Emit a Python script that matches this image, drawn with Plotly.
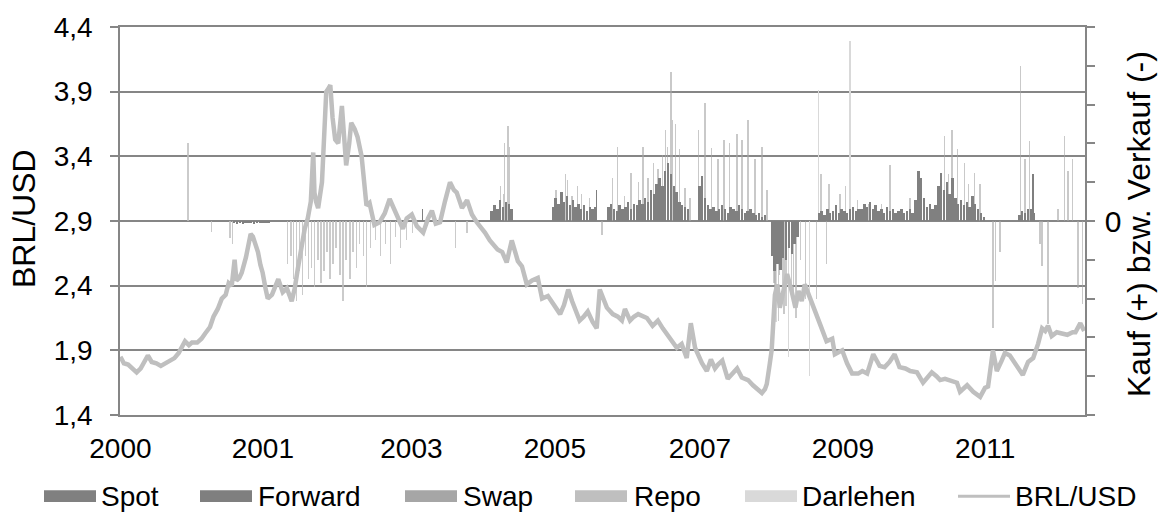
import pandas as pd
import plotly.graph_objects as go

# ---------------------------------------------------------------
# BRL/USD exchange rate (reais per US dollar)
# ---------------------------------------------------------------
fx_dates = [
    "2000-01-03", "2000-01-20", "2000-02-10", "2000-03-01", "2000-03-23", "2000-04-12",
    "2000-05-02", "2000-05-17", "2000-06-05", "2000-06-28", "2000-07-20", "2000-08-15",
    "2000-09-05", "2000-09-25", "2000-10-16", "2000-11-01", "2000-11-16", "2000-12-05",
    "2000-12-20", "2001-01-15", "2001-02-05", "2001-02-23", "2001-03-19", "2001-04-05",
    "2001-04-26", "2001-05-16", "2001-06-04", "2001-06-19", "2001-07-04", "2001-07-18",
    "2001-07-27", "2001-08-10", "2001-08-22", "2001-09-12", "2001-09-26", "2001-10-05",
    "2001-10-16", "2001-10-30", "2001-11-10", "2001-11-22", "2001-12-03", "2001-12-17",
    "2001-12-28", "2002-01-18", "2002-02-05", "2002-02-18", "2002-03-12", "2002-04-01",
    "2002-04-25", "2002-05-10", "2002-05-25", "2002-06-13", "2002-06-28", "2002-07-13",
    "2002-07-28", "2002-08-09", "2002-08-15", "2002-08-23", "2002-09-02", "2002-09-21",
    "2002-10-04", "2002-10-12", "2002-10-25", "2002-11-01", "2002-11-12", "2002-11-25",
    "2002-12-10", "2002-12-28", "2003-01-08", "2003-01-18", "2003-02-02", "2003-02-12",
    "2003-03-01", "2003-03-15", "2003-04-04", "2003-04-19", "2003-04-28", "2003-05-13",
    "2003-06-06", "2003-07-01", "2003-07-27", "2003-08-20", "2003-09-15", "2003-10-24",
    "2003-11-12", "2003-12-07", "2004-01-01", "2004-02-01", "2004-02-25", "2004-03-15",
    "2004-04-03", "2004-04-24", "2004-05-18", "2004-06-12", "2004-07-01", "2004-07-15",
    "2004-08-10", "2004-09-04", "2004-09-28", "2004-10-22", "2004-12-01", "2004-12-25",
    "2005-02-01", "2005-02-24", "2005-03-18", "2005-04-12", "2005-05-12", "2005-06-01",
    "2005-06-25", "2005-07-21", "2005-08-18", "2005-09-08", "2005-10-07", "2005-11-01",
    "2005-12-06", "2005-12-25", "2006-01-15", "2006-02-03", "2006-02-21", "2006-03-12",
    "2006-04-01", "2006-04-21", "2006-05-15", "2006-06-04", "2006-06-19", "2006-07-09",
    "2006-07-24", "2006-08-22", "2006-09-16", "2006-10-06", "2006-10-21", "2006-11-15",
    "2006-12-04", "2006-12-25", "2007-01-18", "2007-02-06", "2007-03-06", "2007-04-01",
    "2007-04-25", "2007-05-15", "2007-06-13", "2007-07-03", "2007-07-27", "2007-08-21",
    "2007-09-10", "2007-10-01", "2007-11-04", "2007-11-28", "2007-12-18", "2008-01-07",
    "2008-01-22", "2008-02-12", "2008-03-10", "2008-04-04", "2008-04-25", "2008-05-18",
    "2008-06-18", "2008-07-12", "2008-08-06", "2008-08-25", "2008-09-09", "2008-09-18",
    "2008-10-03", "2008-10-12", "2008-10-28", "2008-11-09", "2008-11-21", "2008-12-12",
    "2008-12-27", "2009-01-15", "2009-02-06", "2009-02-21", "2009-03-09", "2009-03-24",
    "2009-04-18", "2009-05-12", "2009-06-15", "2009-07-09", "2009-08-06", "2009-08-19",
    "2009-09-24", "2009-10-18", "2009-11-12", "2009-12-12", "2010-01-01", "2010-01-25",
    "2010-02-24", "2010-03-27", "2010-04-21", "2010-05-15", "2010-06-09", "2010-07-03",
    "2010-08-01", "2010-08-25", "2010-09-27", "2010-10-27", "2010-11-21", "2010-12-09",
    "2011-01-01", "2011-01-19", "2011-02-12", "2011-03-06", "2011-04-12", "2011-04-27",
    "2011-05-15", "2011-06-01", "2011-07-01", "2011-08-04", "2011-08-28", "2011-09-12",
    "2011-10-06", "2011-10-25", "2011-11-18", "2011-12-04", "2011-12-28", "2012-02-02",
    "2012-03-01", "2012-03-27", "2012-04-21", "2012-05-15", "2012-06-04", "2012-06-19",
    "2012-07-03", "2012-07-21", "2012-08-15", "2012-09-09", "2012-10-06", "2012-11-01",
    "2012-11-15", "2012-12-09", "2012-12-28",
]
fx_values = [
    1.85, 1.80, 1.79, 1.76, 1.73, 1.76,
    1.82, 1.86, 1.81, 1.80, 1.78, 1.80,
    1.82, 1.84, 1.88, 1.93, 1.97, 1.94,
    1.96, 1.96, 1.99, 2.03, 2.08, 2.16,
    2.22, 2.30, 2.33, 2.42, 2.40, 2.60,
    2.44, 2.46, 2.50, 2.62, 2.76, 2.80,
    2.78, 2.72, 2.66, 2.56, 2.50, 2.38,
    2.30, 2.33, 2.40, 2.45, 2.35, 2.38,
    2.28, 2.38, 2.53, 2.70, 2.84, 2.92,
    3.05, 3.43, 3.12, 3.05, 3.00, 3.20,
    3.55, 3.90, 3.93, 3.95, 3.70, 3.53,
    3.50, 3.79, 3.55, 3.33, 3.50, 3.66,
    3.61, 3.55, 3.40, 3.15, 3.02, 3.04,
    2.87, 2.89, 2.96, 3.07, 2.97, 2.84,
    2.92, 2.95, 2.86, 2.81, 2.92, 2.98,
    2.88, 2.89, 3.05, 3.20, 3.14, 3.12,
    3.00, 3.06, 2.95, 2.89, 2.81, 2.75,
    2.68, 2.66, 2.58, 2.75, 2.59, 2.55,
    2.41, 2.44, 2.46, 2.30, 2.32, 2.26,
    2.18, 2.25, 2.37, 2.28, 2.20, 2.13,
    2.16, 2.20, 2.12, 2.07, 2.37, 2.28,
    2.23, 2.18, 2.16, 2.13, 2.22, 2.13,
    2.16, 2.18, 2.16, 2.15, 2.09, 2.13,
    2.07, 2.03, 1.97, 1.92, 1.95, 1.84,
    2.11, 1.92, 1.80, 1.74, 1.83, 1.76,
    1.79, 1.82, 1.68, 1.73, 1.76, 1.69,
    1.67, 1.63, 1.59, 1.57, 1.60, 1.64,
    1.80, 1.90, 2.33, 2.41, 2.23, 2.38,
    2.49, 2.38, 2.23, 2.36, 2.28, 2.41,
    2.30, 2.20, 2.07, 1.97, 1.99, 1.87,
    1.90, 1.80, 1.72, 1.72, 1.74, 1.72,
    1.87, 1.78, 1.77, 1.81, 1.87, 1.77,
    1.76, 1.74, 1.73, 1.65, 1.70, 1.73,
    1.70, 1.67, 1.68, 1.67, 1.65, 1.58,
    1.61, 1.63, 1.58, 1.54, 1.61, 1.62,
    1.90, 1.74, 1.82, 1.88, 1.86, 1.77,
    1.71, 1.81, 1.84, 1.95, 2.07, 2.05,
    2.09, 2.01, 2.04, 2.03, 2.02, 2.04,
    2.04, 2.11, 2.05,
]

# ---------------------------------------------------------------
# Central bank FX operations: purchases (+) / sales (-)
# Spot volumes are given as fortnightly blocks (first date, values)
# ---------------------------------------------------------------
spot_2001 = ("2001-07-16", [-0.06, -0.07, -0.05, -0.07, -0.06, -0.05, -0.06,
                            -0.07, -0.05, -0.06, -0.05, -0.06, -0.05])
spot_2005 = ("2005-01-03", [0.25, 0.40, 0.30, 0.55, 0.35, 0.50, 0.45, 0.30])
spot_2006 = ("2005-10-31", [0.35, 0.60, 0.45, 0.75, 0.50, 0.65, 0.40, 0.55,
                            0.35, 0.45, 0.30, 0.40, 0.25, 0.35, 0.30, 0.35])
spot_2007 = ("2006-07-31", [0.35, 0.45, 0.30, 0.25, 0.40, 0.30, 0.35, 0.50,
                            0.30, 0.45, 0.40, 0.55, 0.45, 0.60, 0.50, 0.80,
                            0.70, 0.95, 1.10, 0.90, 1.30, 1.50, 1.20, 0.90,
                            0.75, 0.50, 0.40, 0.35, 0.30])
spot_2008 = ("2007-10-22", [0.90, 1.15, 0.60, 0.40, 0.30, 0.35, 0.25, 0.30,
                            0.40, 0.30, 0.20, 0.35, 0.30, 0.25, 0.40, 0.30,
                            0.20, 0.25, 0.30, 0.20, 0.15, 0.20, 0.10, 0.15])
spot_crisis = ("2008-10-13", [-0.90, -1.30, -1.10, -1.25, -0.95, -1.00, -0.70,
                              -0.85, -0.60, -0.40])
spot_2010 = ("2009-06-01", [0.20, 0.25, 0.15, 0.30, 0.20, 0.25, 0.40, 0.20,
                            0.30, 0.25, 0.20, 0.30, 0.35, 0.25, 0.30,
                            0.30, 0.45, 0.35, 0.50, 0.30, 0.40, 0.25, 0.30,
                            0.20, 0.35, 0.25, 0.30, 0.20, 0.25, 0.30, 0.20,
                            0.25, 0.30, 0.20, 0.55, 1.30, 1.10, 0.60, 0.35,
                            0.45, 0.30,
                            0.40, 0.90, 1.25, 0.80, 1.00, 0.70, 1.10, 0.60,
                            0.45, 0.55, 0.40, 0.50, 0.35, 0.65, 0.45, 0.30,
                            0.20, 0.10])
spot_2012 = ("2012-02-13", [0.15, 0.25, 0.20, 0.30, 0.30, 0.20])

forward_dates = ["2004-01-30", "2006-06-02", "2012-04-20"]
forward_values = [0.30, 0.80, 1.20]

swap_dates = [
    "2005-02-15", "2005-03-01", "2005-03-08", "2005-03-24", "2005-04-01",
    "2005-11-15", "2006-01-02", "2006-01-10", "2006-02-03", "2006-02-28",
    "2006-03-22", "2006-05-01", "2006-06-30",
    "2006-08-22", "2006-09-15", "2006-10-20", "2006-11-20", "2006-12-26",
    "2007-01-18", "2007-02-12", "2007-03-12", "2007-04-02", "2007-04-25",
    "2007-05-10", "2007-05-18", "2007-06-04", "2007-06-13", "2007-06-28",
    "2007-07-18", "2007-08-13", "2007-09-06",
    "2007-10-19", "2007-11-19", "2007-12-21", "2008-01-22", "2008-02-21",
    "2008-03-20", "2008-04-25", "2008-05-19", "2008-06-18", "2008-07-22",
    "2008-08-25", "2008-09-19",
    "2008-10-28", "2008-11-21", "2008-12-12", "2009-01-26", "2009-03-27",
    "2009-05-22", "2009-07-10",
    "2009-09-14", "2009-12-07", "2010-02-01", "2010-04-05", "2010-05-17",
    "2010-08-24", "2011-02-08", "2011-02-28", "2011-03-18", "2011-04-15",
    "2011-05-20", "2011-06-09", "2011-07-08", "2011-08-03",
    "2011-10-06", "2011-10-17", "2011-11-10",
    "2012-02-17", "2012-03-12", "2012-04-02", "2012-08-21", "2012-09-21",
    "2012-10-10", "2012-11-01",
    "2012-05-24", "2012-06-04", "2012-07-03", "2012-11-28", "2012-12-18",
]
swap_values = [
    0.90, 0.70, 2.00, 2.45, 1.90,
    0.80, 1.20, 1.05, 0.65, 0.90,
    0.70, 0.60, -0.36,
    1.10, 1.90, 0.65, 1.25, 1.00,
    1.90, 1.10, 1.50, 1.35, 1.70,
    2.35, 1.90, 3.85, 2.60, 2.50,
    1.85, 0.85, 0.60,
    2.35, 3.05, 1.87, 1.60, 2.10,
    2.00, 2.25, 2.10, 2.60, 1.60,
    1.90, 0.80,
    -2.00, -1.40, -2.40, -1.80, -2.00,
    -2.00, -1.10,
    0.70, 0.55, 0.45, 0.45, 1.45,
    0.60, 2.20, 1.20, 2.35, 1.85,
    1.50, 0.95, 1.25, 0.95,
    -2.75, -1.55, -0.80,
    4.00, 1.60, 2.05, 0.30, 2.20,
    1.30, 1.60,
    -0.60, -1.17, -2.65, -1.73, -2.15,
]

repo_dates = [
    "2000-12-01", "2001-03-28", "2001-06-25", "2001-07-09",
    "2002-04-05", "2002-04-22", "2002-05-03", "2002-05-20", "2002-06-03",
    "2002-06-18", "2002-07-03", "2002-07-18", "2002-08-02", "2002-08-16",
    "2002-09-02", "2002-09-16", "2002-10-01", "2002-10-15", "2002-10-31",
    "2002-11-14", "2002-11-29", "2002-12-19", "2003-01-03", "2003-01-17",
    "2003-02-06", "2003-02-21", "2003-03-10", "2003-03-25", "2003-04-15",
    "2003-04-28", "2003-05-19", "2003-06-12", "2003-07-07", "2003-08-01",
    "2003-08-25", "2003-09-19", "2003-10-13", "2003-11-12", "2003-12-12",
    "2004-07-09", "2004-09-03",
    "2008-10-24", "2008-11-13", "2008-12-03", "2008-12-22", "2009-01-16",
    "2009-02-09", "2009-03-04",
    "2009-06-12", "2009-07-21", "2009-10-09",
]
repo_values = [
    2.00, -0.28, -0.45, -0.60,
    -1.10, -0.90, -1.50, -2.05, -1.30,
    -1.90, -0.90, -1.50, -1.20, -1.70,
    -1.00, -1.60, -1.30, -0.80, -1.50,
    -1.10, -0.70, -1.40, -2.07, -1.00,
    -1.50, -0.80, -1.20, -0.60, -0.90,
    -1.70, -0.70, -0.50, -0.90, -0.60,
    -1.10, -0.40, -0.70, -0.50, -0.30,
    -0.70, -0.30,
    -1.60, -2.58, -1.90, -2.20, -1.60,
    -2.50, -1.00,
    1.20, 0.95, 0.90,
]

loan_dates = ["2008-11-03", "2009-01-02", "2009-04-17", "2009-06-01", "2009-11-02"]
loan_values = [-2.60, -3.50, -4.00, 3.37, 4.65]

# ---------------------------------------------------------------
# Axis labels
# ---------------------------------------------------------------
x_tick_dates = ["2000-01-03", "2001-12-04", "2003-12-05", "2005-11-10",
                "2007-10-25", "2009-09-28", "2011-08-29"]
x_tick_text = ["2000", "2001", "2003", "2005", "2007", "2009", "2011"]

ops_ticks = list(range(-5, 6))
ops_tick_text = ["0" if v == 0 else "" for v in ops_ticks]


def fortnightly(*blocks):
    xs, ys = [], []
    for start, vals in blocks:
        xs += list(pd.date_range(start, periods=len(vals), freq="14D"))
        ys += list(vals)
    return xs, ys


spot_x, spot_y = fortnightly(spot_2001, spot_2005, spot_2006, spot_2007,
                             spot_2008, spot_crisis, spot_2010, spot_2012)

DAY_MS = 86400000
FONT = "Liberation Sans, Arial, Helvetica, sans-serif"
FS = 28
FS_TITLE = 32
GRID = "#868686"

fig = go.Figure()

series = [
    ("Darlehen", loan_dates, loan_values, "#d9d9d9", 1.5 * DAY_MS, 1.0),
    ("Repo", repo_dates, repo_values, "#bfbfbf", 1.5 * DAY_MS, 0.8),
    ("Swap", swap_dates, swap_values, "#a6a6a6", 1.5 * DAY_MS, 0.6),
    ("Forward", forward_dates, forward_values, "#7f7f7f", 1.5 * DAY_MS, 1.0),
    ("Spot", spot_x, spot_y, "#808080", 12 * DAY_MS, 1.0),
]
for name, xs, ys, color, w, op in series:
    fig.add_trace(go.Bar(
        x=xs, y=ys, name=name, width=w, opacity=op,
        marker=dict(color=color, line=dict(width=0)),
        yaxis="y", showlegend=False,
    ))

fig.add_trace(go.Scatter(
    x=fx_dates, y=fx_values, name="BRL/USD", mode="lines",
    line=dict(color="#bfbfbf", width=4.5),
    yaxis="y2", showlegend=False,
))

# plot area in pixels
L, T, W, H = 120, 23, 965, 392


def px(x):
    return (x - L) / W


def py(y):
    return (T + H - y) / H


fig.update_layout(
    width=1169, height=512,
    margin=dict(l=L, r=1169 - L - W, t=T, b=512 - T - H),
    paper_bgcolor="white", plot_bgcolor="white",
    barmode="overlay", bargap=0, bargroupgap=0,
    separators=",.",
    font=dict(family=FONT, size=FS, color="black"),
    xaxis=dict(
        type="date", range=["2000-01-01", "2013-01-01"],
        tickvals=x_tick_dates, ticktext=x_tick_text, ticks="",
        ticklabelstandoff=8,
        showgrid=False, zeroline=False,
        showline=True, mirror=True, linecolor=GRID, linewidth=1.5,
        tickfont=dict(size=FS),
    ),
    yaxis=dict(
        range=[-5, 5], tickvals=ops_ticks, ticktext=ops_tick_text,
        side="right", ticks="outside", ticklen=8, tickwidth=1.5, tickcolor=GRID,
        ticklabelstandoff=4,
        showline=True, linecolor=GRID, linewidth=1.5,
        showgrid=False, zeroline=False, tickfont=dict(size=FS + 2),
    ),
    yaxis2=dict(
        range=[1.4, 4.4], tick0=1.4, dtick=0.5, tickformat=".1f",
        overlaying="y", side="left",
        ticks="outside", ticklen=8, tickwidth=1.5, tickcolor=GRID,
        ticklabelstandoff=12,
        showline=True, linecolor=GRID, linewidth=1.5,
        showgrid=True, gridcolor=GRID, gridwidth=1.5, zeroline=False,
        tickfont=dict(size=FS),
    ),
)

annotations = [
    dict(text="BRL/USD", x=px(24), y=py(217), textangle=-90,
         xanchor="center", yanchor="middle", font_size=FS_TITLE),
    dict(text="Kauf (+) bzw. Verkauf (-)", x=px(1139), y=py(222), textangle=-90,
         xanchor="center", yanchor="middle", font_size=FS_TITLE),
]
shapes = []

# legend row
legend_items = [
    ("Spot", "#808080", "bar", 44, 99),
    ("Forward", "#7f7f7f", "bar", 200, 256),
    ("Swap", "#a6a6a6", "bar", 405, 461),
    ("Repo", "#bfbfbf", "bar", 575, 632),
    ("Darlehen", "#d9d9d9", "bar", 745, 800),
    ("BRL/USD", "#bfbfbf", "line", 958, 1013),
]
LEG_Y = 497
for label, color, kind, sx, tx in legend_items:
    if kind == "bar":
        shapes.append(dict(type="rect", xref="paper", yref="paper",
                           x0=px(sx), x1=px(sx + 52), y0=py(LEG_Y + 6), y1=py(LEG_Y - 6),
                           fillcolor=color, line=dict(width=0)))
    else:
        shapes.append(dict(type="line", xref="paper", yref="paper",
                           x0=px(sx), x1=px(sx + 52), y0=py(LEG_Y), y1=py(LEG_Y),
                           line=dict(color=color, width=3)))
    annotations.append(dict(text=label, x=px(tx), y=py(LEG_Y), xanchor="left",
                            yanchor="middle", font_size=FS))

for a in annotations:
    size = a.pop("font_size")
    a.update(xref="paper", yref="paper", showarrow=False,
             font=dict(family=FONT, size=size, color="black"))

fig.update_layout(annotations=annotations, shapes=shapes)

fig.write_html("out.html")
